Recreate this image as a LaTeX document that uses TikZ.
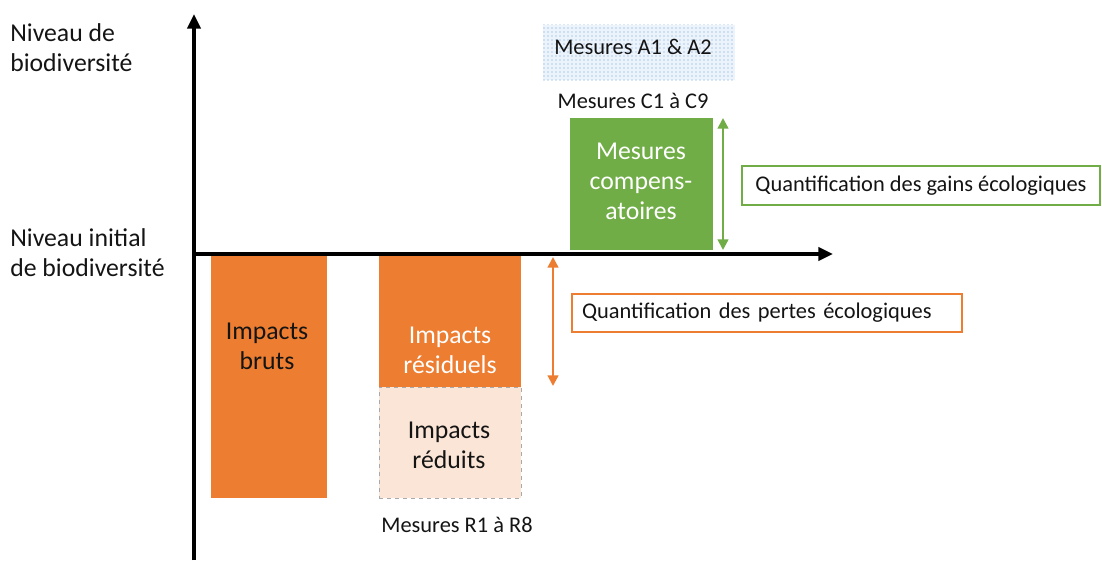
\documentclass[tikz,border=0pt]{standalone}
\usepackage{fontspec}
\setmainfont{Carlito}
\usetikzlibrary{arrows.meta,patterns}
\definecolor{orangeC}{RGB}{237,125,49}
\definecolor{greenC}{RGB}{112,173,71}
\definecolor{peach}{RGB}{251,229,214}
\definecolor{dotblue}{RGB}{100,160,218}
\definecolor{txt}{RGB}{20,20,20}
\begin{document}
\begin{tikzpicture}[x=0.75pt,y=-0.75pt,
  bigtxt/.style={font=\fontsize{19.3}{22.5}\selectfont, align=center},
  smalltxt/.style={font=\fontsize{16.8}{20}\selectfont, text=txt},
  bar/.style={rectangle, inner sep=0pt},
  qbox/.style={rectangle, draw, line width=0.9pt, fill=white, smalltxt, inner xsep=7.5pt, inner ysep=0pt},
  axisline/.style={line width=2.4pt, -{Triangle[length=11pt,width=10pt]}},
  dblarrow/.style={line width=1.7pt, {Triangle[length=8pt,width=8pt]}-{Triangle[length=8pt,width=8pt]}},
]
\useasboundingbox (0,0) rectangle (1102,560);

% boxes
\node[bar, fill=orangeC, minimum width=87pt, minimum height=181.5pt] (bruts) at (269,377) {};
\node[bigtxt, text=txt] (brutstxt) at (267,346) {Impacts\\bruts};
\node[bar, fill=orangeC, minimum width=106.5pt, minimum height=98.25pt] (resid) at (450,321.5) {};
\node[bigtxt, text=white] (residtxt) at (450,350) {Impacts\\résiduels};
\node[bar, fill=peach, draw={rgb,255:red,170;green,170;blue,170}, dashed, line width=0.6pt, minimum width=106.5pt, minimum height=83.25pt] (reduits) at (450,442.5) {};
\node[bigtxt, text=txt] (reduitstxt) at (449,445) {Impacts\\réduits};
\node[bar, fill=greenC, minimum width=107.25pt, minimum height=99pt] (comp) at (641.5,184) {};
\node[bigtxt, text=white] (comptxt) at (641,181) {Mesures\\compens-\\atoires};

% dotted box A1 A2
\node[rectangle, inner sep=0pt, fill={rgb,255:red,236;green,243;blue,251}, minimum width=144pt, minimum height=41.25pt] (abox) at (639,52.5) {};
\fill[pattern=dots, pattern color=dotblue] (abox.north west) rectangle (abox.south east);
\node[smalltxt] (atxt) at (633,47) {Mesures A1 \& A2};
\node[smalltxt] (ctxt) at (633,101) {Mesures C1 à C9};
\node[smalltxt] (rtxt) at (457,525) {Mesures R1 à R8};

% quantification boxes
\node[qbox, draw=greenC, minimum width=268.5pt, minimum height=29.25pt] (gains) at (921,185.5) {Quantification des gains écologiques};
\node[qbox, draw=orangeC, align=left, text width=277.5pt, minimum height=28.5pt] (pertes) at (767,313) {Quantification des pertes écologiques};

% axis labels
\node[bigtxt, align=left, anchor=west, text=txt, inner sep=0pt] (ylab) at (10,48) {Niveau de\\biodiversité};
\node[bigtxt, align=left, anchor=west, text=txt, inner sep=0pt] (ilab) at (10,253) {Niveau initial\\de biodiversité};

% axes
\coordinate (ybot) at (194,560);
\coordinate (ytop) at (194,14);
\coordinate (xst) at (193,254);
\coordinate (xend) at (833,254);
\draw[axisline] (ybot) -- (ytop);
\draw[axisline] (xst) -- (xend);

% double arrows
\coordinate (g1) at (723,118);
\coordinate (g2) at (723,250);
\draw[dblarrow, greenC] (g1) -- (g2);
\coordinate (o1) at (553,257);
\coordinate (o2) at (553,386);
\draw[dblarrow, orangeC] (o1) -- (o2);
\end{tikzpicture}
\end{document}
